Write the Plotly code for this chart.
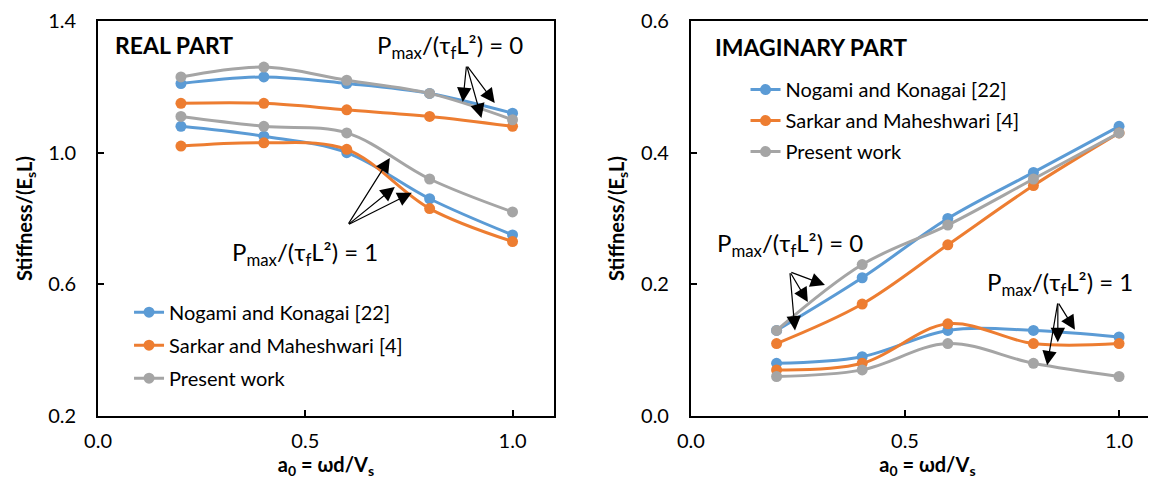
import plotly.graph_objects as go

# ---------------- data ----------------
a0 = [0.2, 0.4, 0.6, 0.8, 1.0]

series_names = ["Nogami and Konagai [22]", "Sarkar and Maheshwari [4]", "Present work"]
series_colors = ["#5B9BD5", "#ED7D31", "#A5A5A5"]

# Real part, Pmax/(tau_f L^2) = 0
real_p0_nogami = [1.21, 1.23, 1.21, 1.18, 1.12]
real_p0_sarkar = [1.15, 1.15, 1.13, 1.11, 1.08]
real_p0_present = [1.23, 1.26, 1.22, 1.18, 1.10]
# Real part, Pmax/(tau_f L^2) = 1
real_p1_nogami = [1.08, 1.05, 1.00, 0.86, 0.75]
real_p1_sarkar = [1.02, 1.03, 1.01, 0.83, 0.73]
real_p1_present = [1.11, 1.08, 1.06, 0.92, 0.82]

# Imaginary part, Pmax/(tau_f L^2) = 0
imag_p0_nogami = [0.13, 0.21, 0.30, 0.37, 0.44]
imag_p0_sarkar = [0.11, 0.17, 0.26, 0.35, 0.43]
imag_p0_present = [0.13, 0.23, 0.29, 0.36, 0.43]
# Imaginary part, Pmax/(tau_f L^2) = 1
imag_p1_nogami = [0.08, 0.09, 0.13, 0.13, 0.12]
imag_p1_sarkar = [0.07, 0.08, 0.14, 0.11, 0.11]
imag_p1_present = [0.06, 0.07, 0.11, 0.08, 0.06]

x_ticks = [0.0, 0.5, 1.0]
x_tick_text = ["0.0", "0.5", "1.0"]
real_y_ticks = [0.2, 0.6, 1.0, 1.4]
real_y_tick_text = ["0.2", "0.6", "1.0", "1.4"]
imag_y_ticks = [0.0, 0.2, 0.4, 0.6]
imag_y_tick_text = ["0.0", "0.2", "0.4", "0.6"]

ratio0 = "P<sub>max</sub>/(τ<sub>f</sub>L²) = 0"
ratio1 = "P<sub>max</sub>/(τ<sub>f</sub>L²) = 1"
x_title = "<b>a<sub>0</sub> = ωd/V<sub>s</sub></b>"
y_title = "<b>Stiffness/(E<sub>s</sub>L)</b>"

FONT = "Lato, 'Open Sans', sans-serif"

fig = go.Figure()

real_sets = [(real_p0_nogami, real_p1_nogami), (real_p0_sarkar, real_p1_sarkar),
             (real_p0_present, real_p1_present)]
imag_sets = [(imag_p0_nogami, imag_p1_nogami), (imag_p0_sarkar, imag_p1_sarkar),
             (imag_p0_present, imag_p1_present)]

for panel, sets, xa, ya, leg in [("real", real_sets, "x", "y", "legend"),
                                 ("imag", imag_sets, "x2", "y2", "legend2")]:
    for name, color, (p0, p1) in zip(series_names, series_colors, sets):
        for k, vals in enumerate((p0, p1)):
            fig.add_trace(go.Scatter(
                x=a0, y=vals, mode="lines+markers", name=name,
                line=dict(color=color, width=3, shape="spline"),
                marker=dict(color=color, size=11),
                xaxis=xa, yaxis=ya, legend=leg,
                legendgroup=panel + name, showlegend=(k == 0),
            ))

axis_common = dict(showline=True, linecolor="black", linewidth=2, ticks="inside",
                   ticklen=6, tickwidth=1.5, tickcolor="black", showgrid=False,
                   zeroline=False, automargin=False, ticklabeloverflow="allow",
                   tickfont=dict(family=FONT, size=20, color="black"))

fig.update_layout(
    template="none",
    width=1156, height=485,
    margin=dict(l=0, r=0, t=0, b=0, pad=0),
    paper_bgcolor="white", plot_bgcolor="white",
    font=dict(family=FONT, color="black"),
    xaxis=dict(domain=[0.0779, 0.4723], range=[0, 1.1], tickvals=x_ticks, ticktext=x_tick_text,
               mirror=True, anchor="y", ticklabelstandoff=6,
               title=dict(text=x_title, font=dict(family=FONT, size=20), standoff=6),
               **axis_common),
    yaxis=dict(domain=[0.1588, 0.9732], range=[0.2, 1.4], tickvals=real_y_ticks,
               ticktext=real_y_tick_text, mirror=True, anchor="x", ticklabelstandoff=16,
               title=dict(text=y_title, font=dict(family=FONT, size=20), standoff=10),
               **axis_common),
    xaxis2=dict(domain=[0.5908, 1.0], range=[0, 1.105], tickvals=x_ticks, ticktext=x_tick_text,
                mirror=True, anchor="y2", ticklabelstandoff=6,
                title=dict(text=x_title, font=dict(family=FONT, size=20), standoff=6),
                **axis_common),
    yaxis2=dict(domain=[0.1588, 0.9732], range=[0.0, 0.6], tickvals=imag_y_ticks,
                ticktext=imag_y_tick_text, mirror=True, anchor="x2", ticklabelstandoff=16,
                title=dict(text=y_title, font=dict(family=FONT, size=20), standoff=11),
                **axis_common),
    legend=dict(x=0.1047, y=0.413, xanchor="left", yanchor="top", bgcolor="rgba(0,0,0,0)",
                font=dict(family=FONT, size=20), tracegroupgap=4, itemwidth=30),
    legend2=dict(x=0.638, y=0.872, xanchor="left", yanchor="top", bgcolor="rgba(0,0,0,0)",
                 font=dict(family=FONT, size=20), tracegroupgap=2, itemwidth=30),
)

annotations = []
# Panel titles
annotations.append(dict(x=0.036, y=1.327, xref="x", yref="y", text="<b>REAL PART</b>",
                        showarrow=False, xanchor="left", yanchor="middle",
                        font=dict(family=FONT, size=23)))
annotations.append(dict(x=0.051, y=0.561, xref="x2", yref="y2", text="<b>IMAGINARY PART</b>",
                        showarrow=False, xanchor="left", yanchor="middle",
                        font=dict(family=FONT, size=23)))

# Ratio labels and arrows: (xref, yref, label, text position, tail, heads)
labels = [
    ("x", "y", ratio0, (0.848, 1.321), (0.889, 1.266),
     [(0.880, 1.154), (0.925, 1.105), (0.957, 1.151)]),
    ("x", "y", ratio1, (0.499, 0.695), (0.602, 0.780),
     [(0.704, 0.984), (0.716, 0.896), (0.757, 0.878)]),
    ("x2", "y2", ratio0, (0.231, 0.260), (0.231, 0.219),
     [(0.313, 0.199), (0.273, 0.173), (0.243, 0.130)]),
    ("x2", "y2", ratio1, (0.862, 0.202), (0.857, 0.173),
     [(0.897, 0.131), (0.857, 0.112), (0.832, 0.077)]),
]
for xr, yr, txt, (tx, ty), (ax, ay), heads in labels:
    annotations.append(dict(x=tx, y=ty, xref=xr, yref=yr, text=txt, showarrow=False,
                            xanchor="center", yanchor="middle",
                            font=dict(family=FONT, size=24)))
    for hx, hy in heads:
        annotations.append(dict(x=hx, y=hy, xref=xr, yref=yr, ax=ax, ay=ay,
                                axref=xr, ayref=yr, text="", showarrow=True,
                                arrowhead=2, arrowsize=2.4, arrowwidth=1.2,
                                arrowcolor="black", standoff=0, startstandoff=0))

fig.update_layout(annotations=annotations)

fig.write_html("out.html")
